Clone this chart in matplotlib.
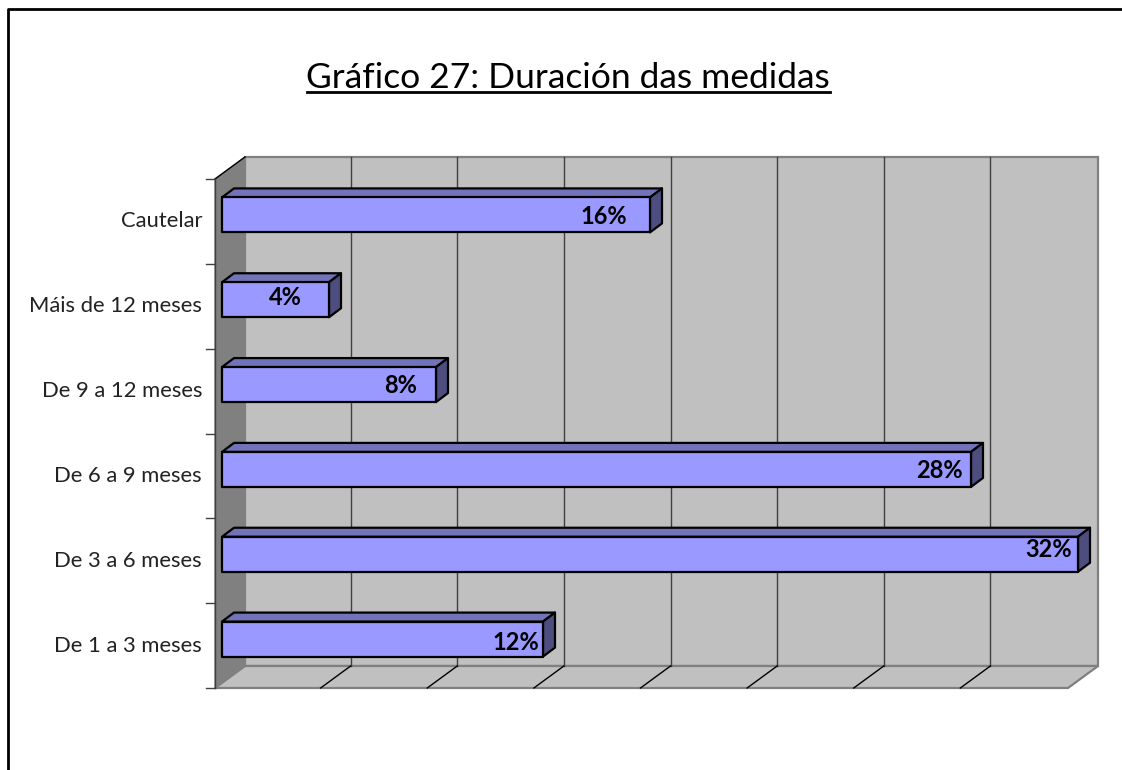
import matplotlib
matplotlib.use("Agg")
import matplotlib.pyplot as plt
from matplotlib.lines import Line2D
from matplotlib.patches import Polygon
import numpy as np

categories = ["De 1 a 3 meses", "De 3 a 6 meses", "De 6 a 9 meses",
              "De 9 a 12 meses", "Máis de 12 meses", "Cautelar"]
values = [12, 32, 28, 8, 4, 16]
title = "Gráfico 27: Duración das medidas"

# value label offsets from the bar end / bar centre, in pixels
label_dx = [-27, -29, -32, -35, -44, -46]
label_dy = [-3, 5, -1, -1, 2, -2]

W, H = 1122, 770
plt.rcParams["font.family"] = ["Lato", "DejaVu Sans"]
fig = plt.figure(figsize=(W / 100, H / 100), dpi=100)

# front plane of the box, in pixels
left, right, top, bottom = 215, 1068, 179, 688
ax = fig.add_axes([left / W, 1 - bottom / H, (right - left) / W, (bottom - top) / H])
px = 26.75
py = (bottom - top) / 6
ax.set_xlim(-7 / px, (right - 222) / px)
ax.set_ylim(0, 6)
ax.axis("off")
x0, x1 = ax.get_xlim()

# depth of box and bars, in data units
dx, dy = 30 / px, 22 / py
bx, by = 12 / px, 9 / py
grey = "#808080"

# walls
ax.add_patch(Polygon([(x0 + dx, dy), (x1 + dx, dy), (x1 + dx, 6 + dy), (x0 + dx, 6 + dy)],
                     fc="#c0c0c0", ec=grey, lw=1.6, clip_on=False, zorder=1))
ax.add_patch(Polygon([(x0, 0), (x1, 0), (x1 + dx, dy), (x0 + dx, dy)],
                     fc="#c0c0c0", ec=grey, lw=1.6, clip_on=False, zorder=1))
ax.add_patch(Polygon([(x0, 0), (x0 + dx, dy), (x0 + dx, 6 + dy), (x0, 6)],
                     fc=grey, ec=grey, lw=1, clip_on=False, zorder=2))
ax.plot([x0, x0 + dx], [6, 6 + dy], color="black", lw=1, clip_on=False, zorder=3)
ax.plot([x0, x0], [0, 6], color="#404040", lw=1, clip_on=False, zorder=3)

# grid lines on back wall and floor
for g in np.linspace(x0, x1, 9)[1:-1] - 1 / px:
    ax.plot([g + dx, g + dx], [dy, 6 + dy], color="#404040", lw=1, clip_on=False, zorder=2)
    ax.plot([g, g + dx], [0, dy], color="black", lw=1, clip_on=False, zorder=2)

# category ticks
for i in range(7):
    ax.plot([x0 - 9 / px, x0], [i, i], color="#404040", lw=1, clip_on=False, zorder=3)

# bars
h = 35 / py
for i, (name, v) in enumerate(zip(categories, values)):
    y = i + 0.5 + 6.5 / py - h / 2
    ax.add_patch(Polygon([(0, y + h), (v, y + h), (v + bx, y + h + by), (bx, y + h + by)],
                         fc="#7373b9", ec="black", lw=1.6, joinstyle="round", clip_on=False, zorder=4))
    ax.add_patch(Polygon([(v, y), (v + bx, y + by), (v + bx, y + h + by), (v, y + h)],
                         fc="#4d4d80", ec="black", lw=1.6, joinstyle="round", clip_on=False, zorder=4))
    ax.add_patch(Polygon([(0, y), (v, y), (v, y + h), (0, y + h)],
                         fc="#9999ff", ec="black", lw=1.6, joinstyle="round", clip_on=False, zorder=5))
    ax.text(v + label_dx[i] / px, y + h / 2 + label_dy[i] / py, f"{v}%", ha="center", va="center",
            fontsize=17, fontweight="bold", color="black", clip_on=False, zorder=6)
    ax.text(x0 - 13 / px, i + 0.5, name, ha="right", va="center", fontsize=15.8,
            color="#222222")

# title and its underline
fig.text(568 / W, 1 - 88 / H, title, ha="center", va="baseline", fontsize=25.5,
         color="black")
fig.add_artist(Line2D([307 / W, 830 / W], [1 - 92 / H, 1 - 92 / H], color="black", lw=2))

# page frame
fig.add_artist(Line2D([8 / W, 8 / W, 1 + 2 / W], [0, 1 - 9 / H, 1 - 9 / H], color="black", lw=2))

fig.savefig("out.png", dpi=100)
